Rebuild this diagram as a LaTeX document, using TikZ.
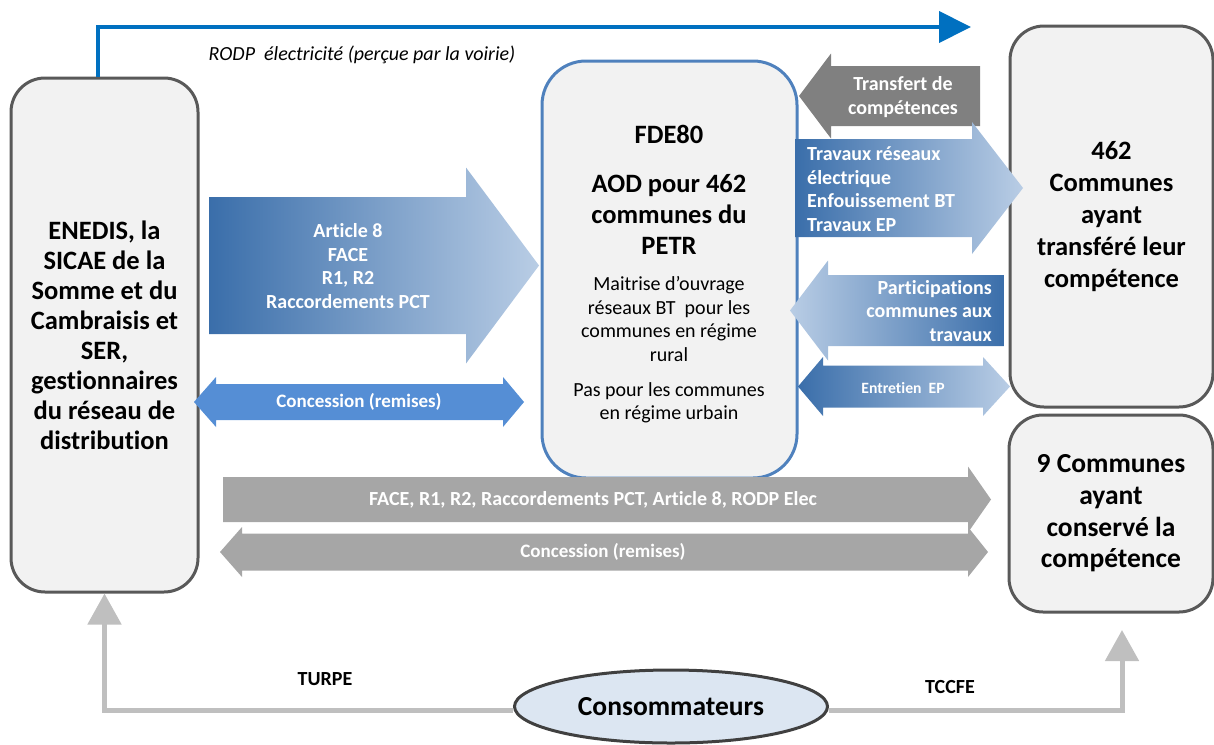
\documentclass[tikz,border=0pt]{standalone}
\usepackage{fontspec}
\setmainfont{Carlito}[Ligatures=NoCommon]
\usetikzlibrary{arrows.meta, shapes.geometric}
\definecolor{box-fill}{HTML}{F2F2F2}
\definecolor{box-border}{HTML}{595959}
\definecolor{fde-border}{HTML}{4F81BD}
\definecolor{rodp-blue}{HTML}{0070C0}
\definecolor{grad-dark}{HTML}{3A6EAA}
\definecolor{grad-light}{HTML}{B9CDE5}
\definecolor{remise-blue}{HTML}{558ED5}
\definecolor{transfer-gray}{HTML}{808080}
\definecolor{flat-gray}{HTML}{A6A6A6}
\definecolor{conso-line}{HTML}{BFBFBF}
\definecolor{conso-fill}{HTML}{DCE6F2}
\definecolor{conso-border}{HTML}{404040}
\tikzset{
  actor-node/.style={
    draw=box-border, fill=box-fill, line width=3pt, rounded corners=34pt,
    align=center, font=\fontsize{26.5}{30}\selectfont\bfseries
  },
  fde-node/.style={
    draw=fde-border, fill=box-fill, line width=3pt, rounded corners=44pt
  },
  fde-text/.style={align=center, inner sep=0pt},
  arrow-text/.style={
    text=white, inner sep=0pt, align=center,
    font=\fontsize{20}{23.5}\selectfont\bfseries
  },
  blue-grad/.style={left color=grad-dark, right color=grad-light},
  blue-grad-back/.style={left color=grad-light, right color=grad-dark},
  money/.style={draw=conso-line, line width=5pt, -{Triangle[length=31pt, width=33pt]}},
  rodp/.style={draw=rodp-blue, line width=4pt, -{Triangle[length=32pt, width=31pt]}},
  tax-label/.style={font=\fontsize{20}{24}\selectfont\bfseries, inner sep=0pt}
}
% block arrow: style, tail x, head base x, tip x, centre y, half shaft, half head
\newcommand\blockarrow[7]{%
  \path[#1] (#2,#5-#6) -- (#3,#5-#6) -- (#3,#5-#7) -- (#4,#5)
    -- (#3,#5+#7) -- (#3,#5+#6) -- (#2,#5+#6) -- cycle;}
% double block arrow: style, left tip, left base, right base, right tip, centre y, half shaft, half head
\newcommand\blockboth[8]{%
  \path[#1] (#2,#6) -- (#3,#6-#8) -- (#3,#6-#7) -- (#4,#6-#7) -- (#4,#6-#8)
    -- (#5,#6) -- (#4,#6+#8) -- (#4,#6+#7) -- (#3,#6+#7) -- (#3,#6+#8) -- cycle;}

\begin{document}
\begin{tikzpicture}[x=1pt, y=-1pt]
  \useasboundingbox (0,0) rectangle (1214,744);

  % actors
  \node[actor-node, minimum width=187pt, minimum height=514pt] (enedis) at (104.5,335)
    {ENEDIS, la\\SICAE de la\\Somme et du\\Cambraisis et\\SER,\\gestionnaires\\du r\'eseau de\\distribution};
  \node[fde-node, minimum width=255pt, minimum height=417pt] (fde) at (669.5,269.5) {};
  \node[actor-node, minimum width=203pt, minimum height=381pt,
        font=\fontsize{26.5}{32}\selectfont\bfseries] (transf) at (1111.5,216.5)
    {462\\Communes\\ayant\\transf\'er\'e leur\\comp\'etence};
  \node[actor-node, minimum width=204pt, minimum height=197pt,
        font=\fontsize{27.5}{31.7}\selectfont\bfseries] (conserv) at (1111,513.5)
    {9 Communes\\ayant\\conserv\'e la\\comp\'etence};
  \node[ellipse, draw=conso-border, fill=conso-fill, line width=3pt,
        minimum width=313pt, minimum height=73pt, inner sep=0pt,
        font=\fontsize{27.5}{32}\selectfont\bfseries] (conso) at (671,706.5) {Consommateurs};

  % text of the syndicate
  \node[fde-text, font=\fontsize{26.5}{30}\selectfont\bfseries] (fdetitle) at (669,134) {FDE80};
  \node[fde-text, font=\fontsize{26.5}{31}\selectfont\bfseries] (fdeaod) at (669,214)
    {AOD pour 462\\communes du\\PETR};
  \node[fde-text, font=\fontsize{20}{23.7}\selectfont] (fdemoa) at (669,319)
    {Maitrise d’ouvrage\\r\'eseaux BT\ \ pour les\\communes en r\'egime\\rural};
  \node[fde-text, font=\fontsize{20}{23.5}\selectfont] (fdeurb) at (669,403)
    {Pas pour les communes\\en r\'egime urbain};

  % flows between the actors
  \blockarrow{blue-grad}{209}{466}{539}{265.5}{68.5}{98}
  \blockboth{fill=remise-blue}{194}{216}{503}{524}{402}{18}{25}
  \blockarrow{fill=transfer-gray}{980}{831}{799}{96}{30}{42.5}
  \blockarrow{blue-grad}{795}{972}{1023}{188}{49}{66}
  \blockarrow{blue-grad-back}{1004}{828}{790}{310.5}{35.5}{50}
  \blockboth{blue-grad}{798}{823}{983}{1010}{386.5}{21}{29.5}
  \blockarrow{fill=flat-gray}{223}{968}{991}{499.5}{22.5}{33}
  \blockboth{fill=flat-gray}{220}{242}{968}{988}{552}{18.5}{25}

  \node[arrow-text] (art8) at (348,266) {Article 8\\FACE\\R1, R2\\Raccordements PCT};
  \node[arrow-text, font=\fontsize{19}{23}\selectfont\bfseries] (remises) at (359,402) {Concession (remises)};
  \node[arrow-text] (transfert) at (903,97) {Transfert de\\comp\'etences};
  \node[arrow-text, anchor=west, align=left] (travaux) at (807,189)
    {Travaux r\'eseaux\\\'electrique\\Enfouissement BT\\Travaux EP};
  \node[arrow-text, anchor=east, align=right] (particip) at (992,311)
    {Participations\\communes aux\\travaux};
  \node[arrow-text, font=\fontsize{15.7}{18}\selectfont\bfseries] (entretien) at (903,388) {Entretien\ \ EP};
  \node[arrow-text, font=\fontsize{20}{24}\selectfont\bfseries] (horsface) at (593,500)
    {FACE, R1, R2, Raccordements PCT, Article 8, RODP Elec};
  \node[arrow-text, font=\fontsize{19}{23}\selectfont\bfseries] (horsremises) at (603,552)
    {Concession (remises)};

  % road occupancy fee
  \coordinate (rodpend) at (971,27);
  \draw[rodp] ([xshift=-7pt]enedis.north) |- (rodpend);
  \node[font=\fontsize{20}{24}\selectfont\itshape, inner sep=0pt] (rodplabel) at (362,55)
    {RODP\ \ \'electricit\'e (per\c{c}ue par la voirie)};

  % consumer payments
  \coordinate (tccfeend) at (1122,630);
  \draw[money] ([yshift=-4pt]conso.west) -| (enedis.south);
  \draw[money] ([yshift=-4pt]conso.east) -| (tccfeend);
  \node[tax-label] (turpe) at (325,679) {TURPE};
  \node[tax-label] (tccfe) at (950,687) {TCCFE};
\end{tikzpicture}
\end{document}
